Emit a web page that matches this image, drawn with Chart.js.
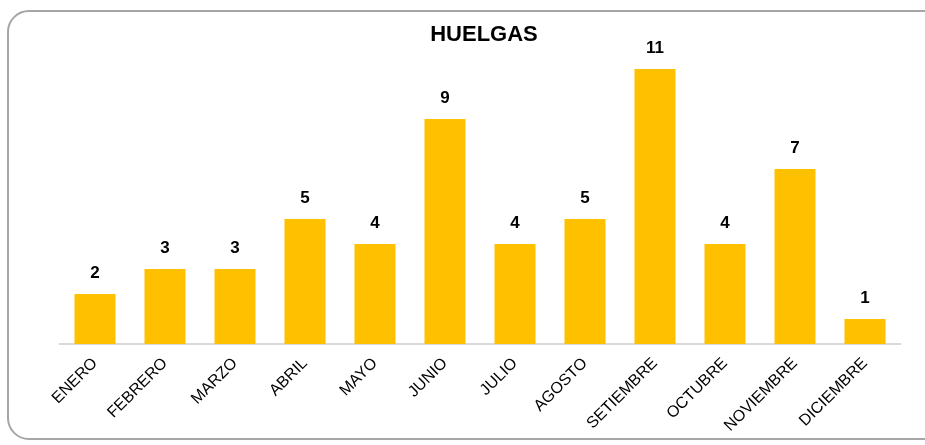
<!DOCTYPE html>
<html>
<head>
<meta charset="utf-8">
<script src="https://cdn.jsdelivr.net/npm/chart.js@4.4.1/dist/chart.umd.min.js"></script>
<style>
  html, body { margin: 0; padding: 0; background: #fff; overflow: hidden; }
  #wrap { position: relative; width: 925px; height: 445px; overflow: hidden; }
  #frame { position: absolute; left: 7px; top: 10px; width: 940px; height: 430px;
           border: 2px solid #A6A6A6; border-radius: 22px; box-sizing: border-box; }
  canvas { position: absolute; left: 0; top: 0; }
</style>
</head>
<body>
<div id="wrap">
  <div id="frame"></div>
  <canvas id="c" width="925" height="445"></canvas>
</div>
<script>
const chartTitle = "HUELGAS";
const categories = ["ENERO","FEBRERO","MARZO","ABRIL","MAYO","JUNIO","JULIO","AGOSTO","SETIEMBRE","OCTUBRE","NOVIEMBRE","DICIEMBRE"];
const huelgas = [2, 3, 3, 5, 4, 9, 4, 5, 11, 4, 7, 1];

const FONT = "'Liberation Sans', Arial, sans-serif";

const overlay = {
  id: 'overlay',
  afterDatasetsDraw(chart) {
    const ctx = chart.ctx;
    ctx.save();
    ctx.fillStyle = '#000';
    ctx.font = "bold 22px " + FONT;
    ctx.textAlign = 'center';
    ctx.textBaseline = 'middle';
    const ca = chart.chartArea;
    ctx.fillText(chartTitle, (ca.left + ca.right) / 2 + 4, 35);
    ctx.font = "bold 17px " + FONT;
    const meta = chart.getDatasetMeta(0);
    meta.data.forEach((bar, i) => {
      ctx.fillText(String(huelgas[i]), bar.x, bar.y - 21);
    });
    ctx.restore();
  }
};

new Chart(document.getElementById('c'), {
  type: 'bar',
  data: {
    labels: categories,
    datasets: [{
      label: chartTitle,
      data: huelgas,
      backgroundColor: '#FFC000',
      borderWidth: 0,
      barPercentage: 0.586,
      categoryPercentage: 1.0
    }]
  },
  options: {
    responsive: false,
    animation: false,
    devicePixelRatio: 1,
    layout: { padding: { left: 60, right: 25, top: 44, bottom: 0 } },
    plugins: { legend: { display: false }, title: { display: false }, tooltip: { enabled: false } },
    scales: {
      y: { display: false, min: 0, max: 12 },
      x: {
        grid: { display: false, drawTicks: false },
        border: { display: true, color: '#D9D9D9', width: 2 },
        ticks: {
          color: '#000',
          font: { family: FONT, size: 16 },
          minRotation: 45, maxRotation: 45,
          padding: 10,
          autoSkip: false
        },
        afterFit(scale) { scale.height = 101; }
      }
    }
  },
  plugins: [overlay]
});
</script>
</body>
</html>
